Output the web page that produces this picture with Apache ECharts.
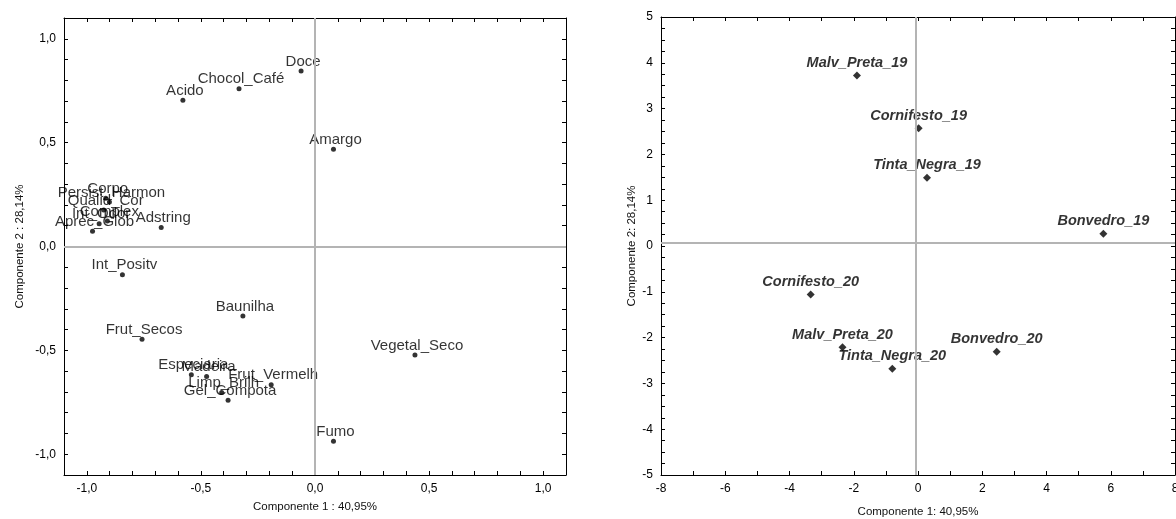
<!DOCTYPE html>
<html>
<head>
<meta charset="utf-8">
<script src="https://cdn.jsdelivr.net/npm/echarts@6/dist/echarts.min.js"></script>
<style>
html,body{margin:0;padding:0;background:#fff;}
#chart{width:1176px;height:519px;}
</style>
</head>
<body>
<div id="chart"></div>
<script>
// ---- Left panel: variable loadings ----
const loadNames = ['Doce','Chocol_Café','Acido','Amargo','Corpo','Persist_Harmon','Qualid_Cor','Complex','Int_Odor','Aprec_Glob','Adstring','Int_Positv','Baunilha','Frut_Secos','Vegetal_Seco','Especiaria','Madeira','Frut_Vermelh','Limp_Brilh','Gel_Compota','Fumo'];
const loadPC1 = [-0.061,-0.333,-0.579,0.081,-0.917,-0.901,-0.926,-0.910,-0.946,-0.975,-0.674,-0.844,-0.316,-0.758,0.438,-0.542,-0.475,-0.192,-0.409,-0.381,0.081];
const loadPC2 = [0.845,0.760,0.704,0.468,0.232,0.214,0.176,0.123,0.110,0.073,0.091,-0.136,-0.334,-0.447,-0.522,-0.617,-0.626,-0.665,-0.703,-0.740,-0.938];
const loadTickValues = [-1,-0.5,0,0.5,1];
const loadTickLabels = ['-1,0','-0,5','0,0','0,5','1,0'];

// ---- Right panel: sample scores ----
const scoreNames = ['Malv_Preta_19','Cornifesto_19','Tinta_Negra_19','Bonvedro_19','Cornifesto_20','Malv_Preta_20','Tinta_Negra_20','Bonvedro_20'];
const scorePC1 = [-1.90,0.02,0.28,5.77,-3.34,-2.35,-0.80,2.45];
const scorePC2 = [3.72,2.57,1.49,0.27,-1.06,-2.21,-2.68,-2.31];
const scoreXTickValues = [-8,-6,-4,-2,0,2,4,6,8];
const scoreXTickLabels = ['-8','-6','-4','-2','0','2','4','6','8'];
const scoreYTickValues = [-5,-4,-3,-2,-1,0,1,2,3,4,5];
const scoreYTickLabels = ['-5','-4','-3','-2','-1','0','1','2','3','4','5'];
const scoreRefX = -0.07;
const scoreRefY = 0.07;

const FONT = "'Liberation Sans', Arial, sans-serif";

function labeler(values, labels) {
  return function (v) {
    const i = values.findIndex(t => Math.abs(t - v) < 1e-6);
    return i >= 0 ? labels[i] : '';
  };
}

function frameAxis(base, extra) {
  return Object.assign({
    type: 'value',
    splitLine: { show: false },
    axisLine: { show: true, onZero: false, lineStyle: { color: '#000', width: 1 } },
    axisTick: { show: true, inside: true, length: 4, lineStyle: { color: '#000', width: 1 } },
    axisLabel: { show: false }
  }, base, extra);
}

const tickLabelStyle = { color: '#000', fontSize: 12, fontFamily: FONT, margin: 8 };
const nameStyle = { color: '#111', fontSize: 11.5, fontFamily: FONT };

const refLine = { color: '#b4b4b4', width: 2, type: 'solid' };

const chart = echarts.init(document.getElementById('chart'), null, { renderer: 'canvas' });

const option = {
  backgroundColor: '#fff',
  animation: false,
  grid: [
    { left: 64, top: 18, width: 502, height: 457, containLabel: false, outerBoundsMode: 'none' },
    { left: 661, top: 17, width: 514, height: 458, containLabel: false, outerBoundsMode: 'none' }
  ],
  xAxis: [
    frameAxis({ gridIndex: 0, min: -1.1, max: 1.1, interval: 0.1, position: 'bottom' }, {
      axisLabel: Object.assign({ show: true, formatter: labeler(loadTickValues, loadTickLabels) }, tickLabelStyle),
      name: 'Componente 1 : 40,95%', nameLocation: 'middle', nameGap: 26, nameTextStyle: nameStyle
    }),
    frameAxis({ gridIndex: 0, min: -1.1, max: 1.1, interval: 0.1, position: 'top' }, {}),
    frameAxis({ gridIndex: 1, min: -8, max: 8, interval: 1, position: 'bottom' }, {
      axisLabel: Object.assign({ show: true, formatter: labeler(scoreXTickValues, scoreXTickLabels) }, tickLabelStyle),
      name: 'Componente 1: 40,95%', nameLocation: 'middle', nameGap: 31, nameTextStyle: nameStyle
    }),
    frameAxis({ gridIndex: 1, min: -8, max: 8, interval: 1, position: 'top' }, {})
  ],
  yAxis: [
    frameAxis({ gridIndex: 0, min: -1.1, max: 1.1, interval: 0.1, position: 'left' }, {
      axisLabel: Object.assign({ show: true, formatter: labeler(loadTickValues, loadTickLabels) }, tickLabelStyle),
      name: 'Componente 2 : 28,14%', nameLocation: 'middle', nameGap: 38, nameTextStyle: nameStyle
    }),
    frameAxis({ gridIndex: 0, min: -1.1, max: 1.1, interval: 0.1, position: 'right' }, {}),
    frameAxis({ gridIndex: 1, min: -5, max: 5, interval: 0.25, position: 'left' }, {
      axisLabel: Object.assign({ show: true, formatter: labeler(scoreYTickValues, scoreYTickLabels) }, tickLabelStyle),
      name: 'Componente 2: 28,14%', nameLocation: 'middle', nameGap: 23, nameTextStyle: nameStyle
    }),
    frameAxis({ gridIndex: 1, min: -5, max: 5, interval: 0.25, position: 'right' }, {})
  ],
  series: [
    {
      type: 'scatter',
      xAxisIndex: 0, yAxisIndex: 0,
      symbol: 'circle', symbolSize: 5,
      itemStyle: { color: '#000' },
      data: loadNames.map((n, i) => ({ name: n, value: [loadPC1[i], loadPC2[i]] })),
      label: {
        show: true, formatter: '{b}', position: 'inside', offset: [2, -9.5],
        color: '#000', fontSize: 15, fontFamily: FONT, align: 'center', verticalAlign: 'middle'
      },
      markLine: {
        silent: true, symbol: ['none', 'none'], label: { show: false },
        lineStyle: refLine,
        data: [{ xAxis: 0 }, { yAxis: 0 }]
      },
      z: 3
    },
    {
      type: 'scatter',
      xAxisIndex: 2, yAxisIndex: 2,
      symbol: 'diamond', symbolSize: 8,
      itemStyle: { color: '#000' },
      data: scoreNames.map((n, i) => ({ name: n, value: [scorePC1[i], scorePC2[i]] })),
      label: {
        show: true, formatter: '{b}', position: 'inside', offset: [0, -12.7],
        color: '#000', fontSize: 14.5, fontFamily: FONT, fontStyle: 'italic', fontWeight: 'bold',
        align: 'center', verticalAlign: 'middle'
      },
      markLine: {
        silent: true, symbol: ['none', 'none'], label: { show: false },
        lineStyle: refLine,
        data: [{ xAxis: scoreRefX }, { yAxis: scoreRefY }]
      },
      z: 3
    }
  ]
};

chart.setOption(option);
</script>
</body>
</html>
